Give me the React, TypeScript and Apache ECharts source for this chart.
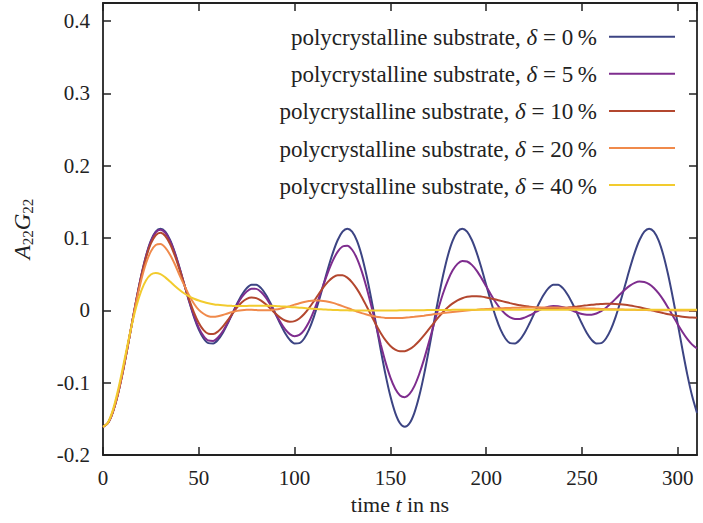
import { useEffect, useRef } from "react";
import * as echarts from "echarts";

// Time axis samples (ns), every 2.5 ns
const timeNs = [
  0, 2.5, 5, 7.5, 10, 12.5, 15, 17.5, 20, 22.5,
  25, 27.5, 30, 32.5, 35, 37.5, 40, 42.5, 45, 47.5,
  50, 52.5, 55, 57.5, 60, 62.5, 65, 67.5, 70, 72.5,
  75, 77.5, 80, 82.5, 85, 87.5, 90, 92.5, 95, 97.5,
  100, 102.5, 105, 107.5, 110, 112.5, 115, 117.5, 120, 122.5,
  125, 127.5, 130, 132.5, 135, 137.5, 140, 142.5, 145, 147.5,
  150, 152.5, 155, 157.5, 160, 162.5, 165, 167.5, 170, 172.5,
  175, 177.5, 180, 182.5, 185, 187.5, 190, 192.5, 195, 197.5,
  200, 202.5, 205, 207.5, 210, 212.5, 215, 217.5, 220, 222.5,
  225, 227.5, 230, 232.5, 235, 237.5, 240, 242.5, 245, 247.5,
  250, 252.5, 255, 257.5, 260, 262.5, 265, 267.5, 270, 272.5,
  275, 277.5, 280, 282.5, 285, 287.5, 290, 292.5, 295, 297.5,
  300, 302.5, 305, 307.5, 310,
];

// A22*G22 for the polycrystalline substrate, one array per frequency spread delta
const delta0 = [
  -0.161, -0.1561, -0.1417, -0.1189, -0.0895, -0.0555, -0.0194, 0.0161, 0.0486, 0.076,
  0.0965, 0.109, 0.113, 0.1088, 0.0973, 0.0799, 0.0585, 0.035, 0.0118, -0.0094,
  -0.0267, -0.0389, -0.0453, -0.0457, -0.0408, -0.0313, -0.0186, -0.0045, 0.0095, 0.0217,
  0.0307, 0.0354, 0.0354, 0.0307, 0.0217, 0.0095, -0.0045, -0.0186, -0.0313, -0.0408,
  -0.0457, -0.0453, -0.0389, -0.0267, -0.0094, 0.0118, 0.035, 0.0585, 0.0799, 0.0973,
  0.1088, 0.113, 0.109, 0.0965, 0.076, 0.0486, 0.0161, -0.0194, -0.0555, -0.0895,
  -0.1189, -0.1417, -0.1561, -0.161, -0.1561, -0.1417, -0.1189, -0.0895, -0.0555, -0.0194,
  0.0161, 0.0486, 0.076, 0.0965, 0.109, 0.113, 0.1088, 0.0973, 0.0799, 0.0585,
  0.035, 0.0118, -0.0094, -0.0267, -0.0389, -0.0453, -0.0457, -0.0408, -0.0313, -0.0186,
  -0.0045, 0.0095, 0.0217, 0.0307, 0.0354, 0.0354, 0.0307, 0.0217, 0.0095, -0.0045,
  -0.0186, -0.0313, -0.0408, -0.0457, -0.0453, -0.0389, -0.0267, -0.0094, 0.0118, 0.035,
  0.0585, 0.0799, 0.0973, 0.1088, 0.113, 0.109, 0.0965, 0.076, 0.0486, 0.0161,
  -0.0194, -0.0555, -0.0895, -0.1189, -0.1417,
];

const delta5 = [
  -0.161, -0.1561, -0.1417, -0.1189, -0.0892, -0.0554, -0.0195, 0.0159, 0.0482, 0.0753,
  0.0955, 0.1077, 0.1115, 0.1073, 0.0959, 0.0788, 0.0578, 0.0351, 0.0126, -0.0077,
  -0.0242, -0.0357, -0.0418, -0.0422, -0.0376, -0.0289, -0.0174, -0.0046, 0.0079, 0.0185,
  0.0262, 0.03, 0.0297, 0.0253, 0.0174, 0.007, -0.0047, -0.0159, -0.0259, -0.0328,
  -0.0357, -0.0339, -0.0273, -0.0162, -0.0012, 0.0164, 0.035, 0.0532, 0.0691, 0.0812,
  0.0883, 0.0893, 0.0838, 0.072, 0.0543, 0.032, 0.0063, -0.0208, -0.0476, -0.0723,
  -0.093, -0.1084, -0.1176, -0.12, -0.1155, -0.1047, -0.0883, -0.0681, -0.0449, -0.0211,
  0.0024, 0.0237, 0.0416, 0.0553, 0.0643, 0.0683, 0.0676, 0.0629, 0.0549, 0.0446,
  0.0332, 0.0216, 0.0109, 0.0019, -0.0051, -0.0097, -0.0118, -0.0118, -0.0101, -0.0071,
  -0.0036, 0.0, 0.003, 0.0051, 0.006, 0.0057, 0.0044, 0.0022, -0.0004, -0.003,
  -0.0051, -0.0062, -0.006, -0.0043, -0.0011, 0.0036, 0.0094, 0.0159, 0.0226, 0.0289,
  0.0343, 0.0381, 0.0398, 0.0393, 0.0364, 0.031, 0.0234, 0.0141, 0.0033, -0.008,
  -0.0195, -0.0302, -0.0397, -0.0474, -0.0527,
];

const delta10 = [
  -0.161, -0.156, -0.1413, -0.1186, -0.0891, -0.0552, -0.0195, 0.0154, 0.047, 0.0732,
  0.0925, 0.1039, 0.1072, 0.1028, 0.0917, 0.0755, 0.056, 0.0351, 0.0149, -0.0031,
  -0.0174, -0.0273, -0.0324, -0.0328, -0.0292, -0.0225, -0.0139, -0.0047, 0.004, 0.0111,
  0.0158, 0.0177, 0.0169, 0.0135, 0.0083, 0.0021, -0.0044, -0.01, -0.014, -0.0157,
  -0.0149, -0.0112, -0.0051, 0.003, 0.0125, 0.0223, 0.0317, 0.0397, 0.0456, 0.0486,
  0.0485, 0.0452, 0.0388, 0.0297, 0.0186, 0.006, -0.007, -0.0199, -0.0316, -0.0415,
  -0.0492, -0.0544, -0.0567, -0.0564, -0.0537, -0.0488, -0.0423, -0.0346, -0.0263, -0.0179,
  -0.0098, -0.0023, 0.0042, 0.0096, 0.0138, 0.0168, 0.0187, 0.0196, 0.0196, 0.019,
  0.0179, 0.0165, 0.0149, 0.0132, 0.0116, 0.01, 0.0085, 0.0072, 0.006, 0.0051,
  0.0043, 0.0037, 0.0033, 0.0032, 0.0031, 0.0033, 0.0036, 0.0041, 0.0047, 0.0054,
  0.0062, 0.0069, 0.0076, 0.0083, 0.0087, 0.009, 0.009, 0.0088, 0.0084, 0.0077,
  0.0067, 0.0055, 0.0042, 0.0027, 0.0011, -0.0006, -0.0023, -0.0038, -0.0053, -0.0067,
  -0.0078, -0.0088, -0.0095, -0.01, -0.0103,
];

const delta20 = [
  -0.161, -0.1559, -0.141, -0.1177, -0.088, -0.0545, -0.0198, 0.0133, 0.0423, 0.0655,
  0.0816, 0.0903, 0.0917, 0.0868, 0.077, 0.0638, 0.0485, 0.0342, 0.0206, 0.0092,
  0.0006, -0.0047, -0.0082, -0.009, -0.0082, -0.0065, -0.0043, -0.0023, -0.0007, 0.0003,
  0.0007, 0.0007, 0.0004, 0.0001, 0.0, 0.0003, 0.0011, 0.0023, 0.004, 0.0059,
  0.0079, 0.0099, 0.0116, 0.0128, 0.0135, 0.0135, 0.013, 0.0119, 0.0103, 0.0082,
  0.0059, 0.0034, 0.0009, -0.0015, -0.0038, -0.0057, -0.0074, -0.0088, -0.0097, -0.0104,
  -0.0107, -0.0107, -0.0106, -0.0102, -0.0096, -0.0089, -0.0081, -0.0073, -0.0064, -0.0055,
  -0.0047, -0.0038, -0.003, -0.0022, -0.0015, -0.0008, -0.0002, 0.0004, 0.0009, 0.0014,
  0.0018, 0.0022, 0.0026, 0.0029, 0.0032, 0.0034, 0.0036, 0.0037, 0.0039, 0.004,
  0.004, 0.004, 0.004, 0.004, 0.0039, 0.0038, 0.0036, 0.0035, 0.0033, 0.0031,
  0.0029, 0.0027, 0.0025, 0.0023, 0.002, 0.0018, 0.0016, 0.0014, 0.0012, 0.001,
  0.0008, 0.0007, 0.0005, 0.0004, 0.0003, 0.0002, 0.0001, 0.0001, 0.0, 0.0,
  -0.0001, -0.0001, -0.0001, -0.0001, 0.0,
];

const delta40 = [
  -0.161, -0.1553, -0.139, -0.114, -0.0839, -0.0515, -0.0206, 0.0063, 0.0273, 0.0416,
  0.0495, 0.0518, 0.0501, 0.0456, 0.0398, 0.0338, 0.0282, 0.0233, 0.0193, 0.0161,
  0.0136, 0.0116, 0.0099, 0.0086, 0.0076, 0.0069, 0.0064, 0.0062, 0.0061, 0.0061,
  0.0062, 0.0064, 0.0065, 0.0065, 0.0064, 0.0063, 0.006, 0.0056, 0.0052, 0.0047,
  0.0042, 0.0037, 0.0032, 0.0026, 0.0022, 0.0017, 0.0013, 0.0009, 0.0006, 0.0004,
  0.0002, 0.0, -0.0002, -0.0003, -0.0003, -0.0003, -0.0003, -0.0003, -0.0003, -0.0003,
  -0.0002, -0.0001, 0.0, 0.0, 0.0001, 0.0002, 0.0003, 0.0003, 0.0004, 0.0005,
  0.0005, 0.0006, 0.0006, 0.0007, 0.0007, 0.0007, 0.0008, 0.0008, 0.0008, 0.0008,
  0.0008, 0.0008, 0.0008, 0.0008, 0.0008, 0.0008, 0.0008, 0.0008, 0.0008, 0.0008,
  0.0008, 0.0008, 0.0008, 0.0008, 0.0008, 0.0008, 0.0008, 0.0008, 0.0008, 0.0008,
  0.0008, 0.0008, 0.0008, 0.0008, 0.0008, 0.0008, 0.0008, 0.0008, 0.0008, 0.0008,
  0.0008, 0.0008, 0.0008, 0.0008, 0.0008, 0.0008, 0.0008, 0.0008, 0.0008, 0.0008,
  0.0008, 0.0008, 0.0008, 0.0008, 0.0008,
];

const deltaPercent = ["0", "5", "10", "20", "40"];
const seriesValues = [delta0, delta5, delta10, delta20, delta40];
const lineColors = ["#3c4483", "#7e2d8e", "#b3472f", "#f08a4b", "#f2cb2e"];

const xTicks = { min: 0, max: 310, interval: 50 };
const yTicks = { min: -0.2, max: 0.425, interval: 0.1 };

const SERIF = "Liberation Serif";
const INK = "#222222";

export default function App() {
  const ref = useRef<HTMLDivElement>(null);

  useEffect(() => {
    if (!ref.current) return;
    const chart = echarts.init(ref.current, undefined, { renderer: "svg" });

    const axisCommon = {
      axisLine: { show: true, onZero: false, lineStyle: { color: INK, width: 1.8 } },
      axisTick: { show: true, inside: true, length: 8, lineStyle: { color: INK, width: 1.5 } },
      splitLine: { show: false },
    };

    const legendRowY = (i: number) => 36.7 + 37.1 * i;
    const legendGraphics: any[] = [];
    deltaPercent.forEach((p, i) => {
      const y = legendRowY(i);
      legendGraphics.push({
        type: "text",
        x: 597,
        y: y + 1,
        style: {
          text: `{r|polycrystalline substrate, }{i|δ}{r| = ${p}\u2009%}`,
          align: "right",
          verticalAlign: "middle",
          textAlign: "right",
          textVerticalAlign: "middle",
          rich: {
            r: { fontFamily: SERIF, fontSize: 23, fill: INK },
            i: { fontFamily: SERIF, fontSize: 23, fontStyle: "italic", fill: INK },
          },
        },
        silent: true,
      });
      legendGraphics.push({
        type: "line",
        shape: { x1: 609, y1: y, x2: 675, y2: y },
        style: { stroke: lineColors[i], lineWidth: 2 },
        silent: true,
      });
    });

    chart.setOption({
      animation: false,
      backgroundColor: "#ffffff",
      grid: { left: 103, right: 6, top: 3, bottom: 68, containLabel: false },
      xAxis: [
        {
          type: "value",
          position: "bottom",
          ...xTicks,
          ...axisCommon,
          name: "{r|time }{i|t}{r| in ns}",
          nameLocation: "middle",
          nameGap: 38,
          nameTextStyle: {
            rich: {
              r: { fontFamily: SERIF, fontSize: 22, color: INK },
              i: { fontFamily: SERIF, fontSize: 22, fontStyle: "italic", color: INK },
            },
          },
          axisLabel: {
            show: true,
            margin: 12,
            showMaxLabel: false,
            fontFamily: SERIF,
            fontSize: 21,
            color: INK,
          },
        },
        {
          type: "value",
          position: "top",
          ...xTicks,
          ...axisCommon,
          axisLabel: { show: false },
        },
      ],
      yAxis: [
        {
          type: "value",
          position: "left",
          ...yTicks,
          ...axisCommon,
          name: "{i|A}{s|22}{i|G}{s|22}",
          nameLocation: "middle",
          nameRotate: 90,
          nameGap: 68,
          nameTextStyle: {
            rich: {
              i: {
                fontFamily: SERIF,
                fontSize: 23,
                fontStyle: "italic",
                color: INK,
                lineHeight: 26,
                verticalAlign: "middle",
              },
              s: {
                fontFamily: SERIF,
                fontSize: 15,
                color: INK,
                lineHeight: 15,
                verticalAlign: "bottom",
              },
            },
          },
          axisLabel: {
            show: true,
            margin: 13,
            showMaxLabel: false,
            fontFamily: SERIF,
            fontSize: 21,
            color: INK,
          },
        },
        {
          type: "value",
          position: "right",
          ...yTicks,
          ...axisCommon,
          axisLabel: { show: false },
        },
      ],
      series: seriesValues.map((vals, i) => ({
        type: "line",
        name: `δ = ${deltaPercent[i]} %`,
        xAxisIndex: 0,
        yAxisIndex: 0,
        data: timeNs.map((t, k) => [t, vals[k]]),
        showSymbol: false,
        smooth: 0.3,
        clip: true,
        lineStyle: { color: lineColors[i], width: 2 },
        itemStyle: { color: lineColors[i] },
        z: 2,
      })),
      graphic: legendGraphics,
    });

    return () => chart.dispose();
  }, []);

  return (
    <div
      ref={ref}
      style={{ position: "fixed", left: 0, top: 0, width: 703, height: 523 }}
    />
  );
}
